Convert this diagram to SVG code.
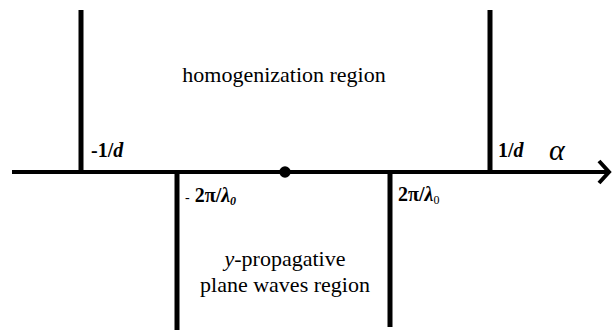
<svg xmlns="http://www.w3.org/2000/svg" width="612" height="330" viewBox="0 0 612 330">
<style>
.ln{stroke:#000;stroke-width:5;fill:none}
.ax{stroke:#000;stroke-width:4;fill:none}
text{font-family:"Liberation Serif","Times New Roman","DejaVu Serif",serif;fill:#000}
.lb{font-weight:bold;font-size:20px}
.tx{font-size:22px}
</style>
<rect width="612" height="330" fill="#fff"/>
<g id="connectors">
<line class="ax" x1="12" y1="172" x2="607" y2="172"/>
<polyline class="ax" points="599,161 609,172 599,183"/>
<line class="ln" x1="81" y1="10" x2="81" y2="172"/>
<line class="ln" x1="490" y1="10" x2="490" y2="172"/>
<line class="ln" x1="177" y1="172" x2="177" y2="330"/>
<line class="ln" x1="390" y1="172" x2="390" y2="327"/>
</g>
<g id="origin"><circle cx="285" cy="172" r="5.7" fill="#000"/></g>
<g id="label-m1d"><text class="lb" x="91" y="157">-1/<tspan font-style="italic">d</tspan></text></g>
<g id="label-1d"><text class="lb" x="498" y="157">1/<tspan font-style="italic">d</tspan></text></g>
<g id="label-alpha"><text x="549" y="160" font-style="italic" font-size="30">α</text></g>
<g id="label-m2pi"><text class="lb" x="185" y="202"><tspan font-weight="normal" font-size="14">-</tspan> 2π/<tspan font-style="italic">λ</tspan><tspan font-style="italic" font-size="12" dy="3">0</tspan></text></g>
<g id="label-2pi"><text class="lb" x="398" y="201">2π/<tspan font-style="italic">λ</tspan><tspan font-weight="normal" font-size="12" dy="3">0</tspan></text></g>
<g id="homog"><text class="tx" x="284" y="82" text-anchor="middle" font-size="23">homogenization region</text></g>
<g id="yprop"><text class="tx" x="285" y="266" text-anchor="middle"><tspan font-style="italic">y</tspan>-propagative</text><text class="tx" x="285" y="292" text-anchor="middle">plane waves region</text></g>
</svg>
